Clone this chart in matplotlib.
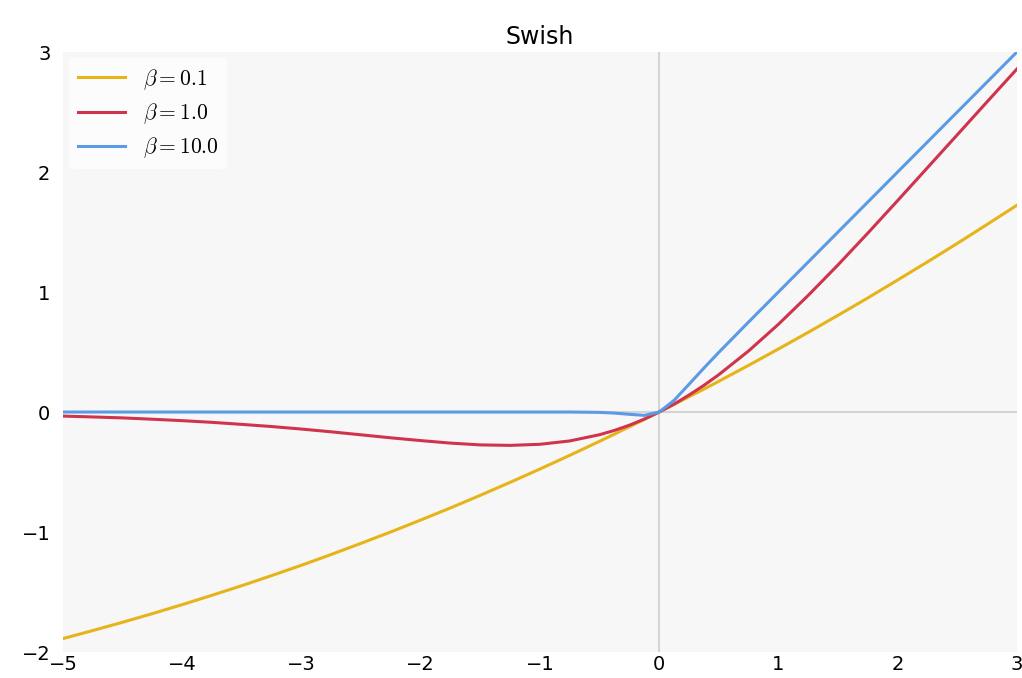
import matplotlib
matplotlib.use('Agg')
import matplotlib.pyplot as plt

plt.rcParams['mathtext.fontset'] = 'cm'

# sample points along x
x = [-5.0, -4.75, -4.5, -4.25, -4.0, -3.75, -3.5, -3.25, -3.0, -2.75, -2.5,
     -2.25, -2.0, -1.75, -1.5, -1.25, -1.0, -0.75, -0.5, -0.375, -0.25, -0.125,
     0.0, 0.125, 0.25, 0.375, 0.5, 0.75, 1.0, 1.25, 1.5, 1.75, 2.0, 2.25, 2.5,
     2.75, 3.0]

swish_b01 = [-1.888, -1.821, -1.752, -1.680, -1.605, -1.527, -1.447, -1.363,
             -1.277, -1.187, -1.094, -0.999, -0.900, -0.799, -0.694, -0.586,
             -0.475, -0.361, -0.244, -0.184, -0.123, -0.062, 0.0, 0.063, 0.127,
             0.191, 0.256, 0.389, 0.525, 0.664, 0.806, 0.951, 1.100, 1.251,
             1.405, 1.563, 1.723]

swish_b1 = [-0.034, -0.041, -0.049, -0.060, -0.072, -0.086, -0.103, -0.121,
            -0.142, -0.165, -0.190, -0.215, -0.238, -0.259, -0.274, -0.278,
            -0.269, -0.241, -0.189, -0.153, -0.110, -0.059, 0.0, 0.066, 0.141,
            0.222, 0.311, 0.509, 0.731, 0.972, 1.226, 1.491, 1.762, 2.036,
            2.310, 2.585, 2.858]

swish_b10 = [0.0, 0.0, 0.0, 0.0, 0.0, 0.0, 0.0, 0.0, 0.0, 0.0, 0.0,
             0.0, 0.0, 0.0, 0.0, 0.0, 0.0, 0.0, -0.003, -0.009, -0.019, -0.028,
             0.0, 0.097, 0.231, 0.366, 0.497, 0.750, 1.0, 1.25, 1.5, 1.75, 2.0,
             2.25, 2.5, 2.75, 3.0]

labels = [r'$\beta = 0.1$', r'$\beta = 1.0$', r'$\beta = 10.0$']
colors = ['#e6b418', '#d0344c', '#5b9be6']

fig = plt.figure(figsize=(10.22, 6.78), dpi=100)
ax = fig.add_axes([0.0616, 0.0383, 0.9334, 0.8850])
ax.set_facecolor('#f7f7f7')

ax.axhline(0, color='#d4d4d4', lw=1.5, zorder=1)
ax.axvline(0, color='#d4d4d4', lw=1.5, zorder=1)

for ys, lab, c in zip([swish_b01, swish_b1, swish_b10], labels, colors):
    ax.plot(x, ys, color=c, lw=2.2, label=lab, zorder=3)

ax.set_xlim(-5, 3)
ax.set_ylim(-2, 3)
ax.set_xticks([-5, -4, -3, -2, -1, 0, 1, 2, 3])
ax.set_yticks([-2, -1, 0, 1, 2, 3])
ax.tick_params(length=0, labelsize=14)
ax.tick_params(axis='y', pad=9)
ax.tick_params(axis='x', pad=2)
for s in ax.spines.values():
    s.set_visible(False)

ax.set_title('Swish', fontsize=17, pad=6)
leg = ax.legend(loc='upper left', fontsize=15.5, frameon=True, framealpha=1.0,
                facecolor='#fcfcfc', edgecolor='none', handlelength=2.2,
                borderaxespad=0.3, labelspacing=0.45)

fig.savefig('out.png', dpi=100)
